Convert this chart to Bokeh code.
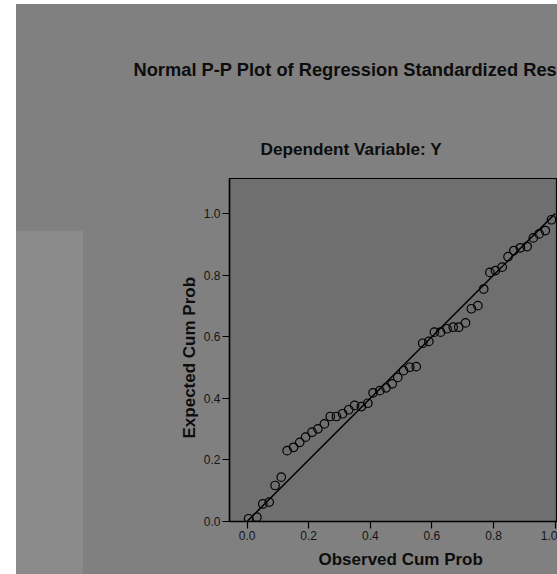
from bokeh.plotting import figure
from bokeh.models import Range1d, Title, Spacer, FixedTicker
from bokeh.layouts import row, column
from bokeh.embed import file_html
from bokeh.resources import INLINE

# ---- data ----
observed_cum_prob = [0.005, 0.032, 0.051, 0.072, 0.091, 0.111, 0.130, 0.151, 0.171, 0.190,
                     0.211, 0.230, 0.251, 0.270, 0.290, 0.310, 0.330, 0.349, 0.371, 0.392,
                     0.409, 0.431, 0.451, 0.471, 0.489, 0.508, 0.528, 0.549, 0.570, 0.590,
                     0.608, 0.628, 0.649, 0.669, 0.687, 0.709, 0.728, 0.749, 0.768, 0.788,
                     0.806, 0.828, 0.847, 0.866, 0.887, 0.909, 0.929, 0.948, 0.968, 0.988]
expected_cum_prob = [0.009, 0.014, 0.057, 0.063, 0.117, 0.144, 0.230, 0.241, 0.257, 0.274,
                     0.290, 0.301, 0.317, 0.341, 0.341, 0.350, 0.363, 0.377, 0.373, 0.384,
                     0.418, 0.425, 0.434, 0.447, 0.468, 0.490, 0.501, 0.503, 0.579, 0.585,
                     0.615, 0.615, 0.626, 0.631, 0.631, 0.645, 0.691, 0.701, 0.755, 0.809,
                     0.815, 0.826, 0.860, 0.880, 0.889, 0.893, 0.921, 0.934, 0.945, 0.980]
ref_line = [0.0, 1.0]
ticks = [0.0, 0.2, 0.4, 0.6, 0.8, 1.0]
tick_labels = {0.0: "0.0", 0.2: "0.2", 0.4: "0.4", 0.6: "0.6", 0.8: "0.8", 1.0: "1.0"}

title_text = "Normal P-P Plot of Regression Standardized Residual"
subtitle_text = "Dependent Variable: Y"
x_label = "Observed Cum Prob"
y_label = "Expected Cum Prob"

OUTER = "#808080"
LIGHT = "#8b8b8b"
FRAME = "#6f6f6f"
TXT = "#0d0d0d"
FONT = "Liberation Sans"

W, H = 474, 570

p = figure(width=W, height=H, output_backend="svg", toolbar_location=None,
           title=None,
           x_range=Range1d(-0.057, 1.0075), y_range=Range1d(0.0, 1.114),
           min_border_left=146, min_border_top=174, min_border_right=0,
           min_border_bottom=53)
p.background_fill_color = FRAME
p.border_fill_color = OUTER
p.outline_line_color = "black"
p.outline_line_width = 1.2
p.grid.visible = False

for ax in (p.xaxis[0], p.yaxis[0]):
    ax.ticker = FixedTicker(ticks=ticks)
    ax.major_label_overrides = tick_labels
    ax.axis_line_color = "black"
    ax.axis_line_width = 1.5
    ax.major_tick_line_color = "black"
    ax.major_tick_line_width = 1.2
    ax.major_tick_out = 7
    ax.major_tick_in = 0
    ax.minor_tick_line_color = None
    ax.major_label_text_font = FONT
    ax.major_label_text_font_size = "12px"
    ax.major_label_text_color = "#151515"
    ax.major_label_standoff = 2

p.line(ref_line, ref_line, line_color="black", line_width=1.5)
p.scatter(observed_cum_prob, expected_cum_prob, size=8.5, fill_color=None,
          line_color="black", line_width=1.2)

def mk_title(txt, size, offset=0, standoff=0):
    return Title(text=txt, text_font=FONT, text_font_size=size,
                 text_font_style="bold", text_color=TXT, align="left",
                 offset=offset, standoff=standoff)

p.add_layout(mk_title(subtitle_text, "17.2px", offset=31, standoff=39), "above")
p.add_layout(mk_title(title_text, "18.3px", offset=-96, standoff=76), "above")
p.add_layout(mk_title(x_label, "17px", offset=89, standoff=10), "below")
p.add_layout(mk_title(y_label, "17px", offset=83, standoff=4), "left")

blocks = column(Spacer(width=67, height=227, styles={"background-color": OUTER}),
                Spacer(width=67, height=343, styles={"background-color": LIGHT}),
                styles={"background-color": OUTER})
inner = row(blocks, p, styles={"background-color": OUTER})
layout = column(Spacer(width=557, height=4),
                row(Spacer(width=16, height=H), inner))
open("out.html", "w").write(file_html(layout, INLINE))
